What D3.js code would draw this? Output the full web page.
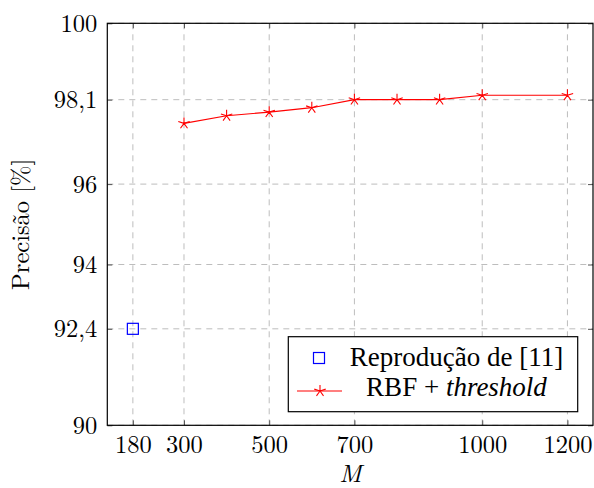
<!DOCTYPE html>
<html><head><meta charset="utf-8">
<script src="https://cdn.jsdelivr.net/npm/d3@7"></script>
</head><body style="margin:0;background:#fff">
<script>
const xTicks = [180, 300, 500, 700, 1000, 1200];
const yTicks = [90, 92.4, 94, 96, 98.1, 100];
const yTickLabels = ["90", "92,4", "94", "96", "98,1", "100"];
const reproX = [180];
const reproY = [92.4];
const rbfX = [300, 400, 500, 600, 700, 800, 900, 1000, 1200];
const rbfY = [97.51, 97.70, 97.79, 97.90, 98.1, 98.1, 98.1, 98.21, 98.21];

const W = 594, H = 488;
const m = {l: 107.3, r: 1, t: 23.3, b: 62.7};
const svg = d3.select("body").append("svg").attr("width", W).attr("height", H).style("display", "block");
const x = d3.scaleLinear().domain([120, 1260]).range([m.l, W - m.r]);
const y = d3.scaleLinear().domain([90, 100]).range([H - m.b, m.t]);
const cm = '"Latin Modern Roman"';
const times = '"Liberation Serif", "Tinos", "Times New Roman", serif';
const fs = 24.5;

// grid
const g = svg.append("g");
g.selectAll(".gx").data(xTicks).join("line")
  .attr("x1", d => x(d)).attr("x2", d => x(d)).attr("y1", y(90)).attr("y2", y(100))
  .attr("stroke", "#bdbdbd").attr("stroke-width", 1).attr("stroke-dasharray", "6,5");
g.selectAll(".gy").data(yTicks).join("line")
  .attr("x1", x(120)).attr("x2", x(1260)).attr("y1", d => y(d)).attr("y2", d => y(d))
  .attr("stroke", "#bdbdbd").attr("stroke-width", 1).attr("stroke-dasharray", "6,5");

// axes with inner ticks on all sides
const tickLen = 5;
const axB = svg.append("g").attr("transform", `translate(0,${y(90)})`)
  .call(d3.axisBottom(x).tickValues(xTicks).tickSize(-tickLen).tickPadding(10).tickFormat(d3.format("d")));
const axT = svg.append("g").attr("transform", `translate(0,${y(100)})`)
  .call(d3.axisTop(x).tickValues(xTicks).tickSize(-tickLen).tickFormat(""));
const axL = svg.append("g").attr("transform", `translate(${x(120)},0)`)
  .call(d3.axisLeft(y).tickValues(yTicks).tickSize(-tickLen).tickPadding(10).tickFormat((d, i) => yTickLabels[i]));
const axR = svg.append("g").attr("transform", `translate(${x(1260)},0)`)
  .call(d3.axisRight(y).tickValues(yTicks).tickSize(-tickLen).tickFormat(""));
[axB, axT, axL, axR].forEach(a => {
  a.attr("font-family", null);
  a.select(".domain").remove();
  a.selectAll(".tick line").attr("stroke", "#555").attr("stroke-width", 1);
  a.selectAll("text").style("font-family", cm).style("font-size", fs + "px").attr("fill", "#000");
});
axB.selectAll("text").attr("dy", null).attr("y", 27.4);
axL.selectAll("text").attr("dy", "0.33em");
// frame
svg.append("rect").attr("x", x(120)).attr("y", y(100))
  .attr("width", x(1260) - x(120)).attr("height", y(90) - y(100))
  .attr("fill", "none").attr("stroke", "#000").attr("stroke-width", 1.2);

// star marker path
function star(cx, cy, r) {
  let p = "";
  for (let k = 0; k < 5; k++) {
    const a = -Math.PI / 2 + k * 2 * Math.PI / 5;
    p += `M${cx},${cy}L${cx + r * Math.cos(a)},${cy + r * Math.sin(a)}`;
  }
  return p;
}

// RBF line
const rbf = rbfX.map((d, i) => [d, rbfY[i]]);
svg.append("path").datum(rbf)
  .attr("d", d3.line().x(d => x(d[0])).y(d => y(d[1])))
  .attr("fill", "none").attr("stroke", "#ff0000").attr("stroke-width", 1.2);
svg.selectAll(".st").data(rbf).join("path")
  .attr("d", d => star(x(d[0]), y(d[1]), 6))
  .attr("stroke", "#ff0000").attr("stroke-width", 1.1).attr("fill", "none");

// repro squares
svg.selectAll(".sq").data(reproX.map((d, i) => [d, reproY[i]])).join("rect")
  .attr("x", d => x(d[0]) - 5.5).attr("y", d => y(d[1]) - 5.5)
  .attr("width", 11).attr("height", 11)
  .attr("fill", "none").attr("stroke", "#0000ff").attr("stroke-width", 1.2);

// legend
const lg = svg.append("g").style("font-family", times);
lg.append("rect").attr("x", 288.3).attr("y", 336.7).attr("width", 289.4).attr("height", 75)
  .attr("fill", "#fff").attr("stroke", "#000").attr("stroke-width", 1.2);
lg.append("rect").attr("x", 313.5).attr("y", 352.5).attr("width", 11).attr("height", 11)
  .attr("fill", "none").attr("stroke", "#0000ff").attr("stroke-width", 1.2);
lg.append("text").attr("x", 456.5).attr("y", 366).attr("text-anchor", "middle")
  .style("font-family", times).style("font-size", "27px").text("Reprodução de [11]");
lg.append("line").attr("x1", 297).attr("x2", 342).attr("y1", 391).attr("y2", 391)
  .attr("stroke", "#ff0000").attr("stroke-width", 1.2);
lg.append("path").attr("d", star(320, 391, 6)).attr("stroke", "#ff0000").attr("stroke-width", 1.1);
const t2 = lg.append("text").attr("x", 456.5).attr("y", 396).attr("text-anchor", "middle")
  .style("font-family", times).style("font-size", "27px");
t2.append("tspan").text("RBF + ");
t2.append("tspan").style("font-style", "italic").text("threshold");

// axis labels
svg.append("text").attr("x", x(700) - 4).attr("y", 482).attr("text-anchor", "middle")
  .style("font-family", cm).style("font-size", "25px").style("font-style", "italic").text("M");
svg.append("text").attr("transform", `translate(29,${(y(90) + y(100)) / 2}) rotate(-90)`)
  .attr("text-anchor", "middle").style("font-family", cm).style("font-size", "24.5px")
  .text("Precisão [%]");
</script>
</body></html>
